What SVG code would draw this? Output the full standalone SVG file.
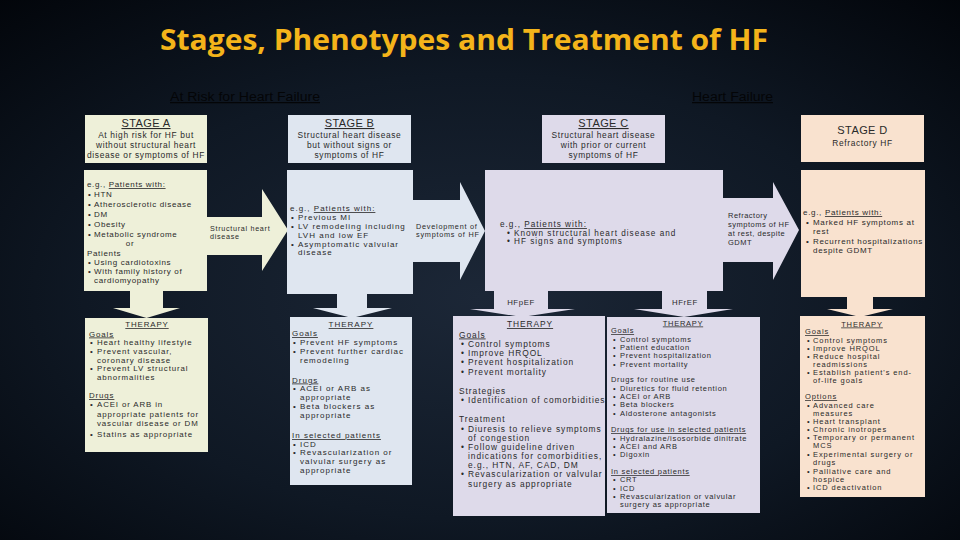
<svg xmlns="http://www.w3.org/2000/svg" width="960" height="540" viewBox="0 0 960 540">
<defs>
<radialGradient id="bg" cx="50%" cy="55%" r="75%">
<stop offset="0" stop-color="#1c2737"/>
<stop offset="0.55" stop-color="#0f1824"/>
<stop offset="1" stop-color="#02050a"/>
</radialGradient>
<style>
text{font-family:"Liberation Sans",Arial,sans-serif;fill:#2a2a2a}
.c{text-anchor:middle}
.u{text-decoration:underline}
.stg{font-size:11px;letter-spacing:0.4px}
.hl{font-size:8.4px;letter-spacing:0.64px}
.fa{fill:#eef0d9}
.fb{fill:#dfe6f0}
.fc{fill:#dedaea}
.fd{fill:#f9e2cf}
.title{font-family:"Open Sans","Liberation Sans",sans-serif;font-weight:bold;fill:#f4b41a}
.top{font-size:12.5px;fill:#040507;text-decoration:underline}
</style>
</defs>
<rect width="960" height="540" fill="url(#bg)"/>
<text class="title" x="160" y="50" font-size="28" textLength="608" lengthAdjust="spacingAndGlyphs">Stages, Phenotypes and Treatment of HF</text>
<text class="top" x="170" y="101" textLength="150" lengthAdjust="spacingAndGlyphs">At Risk for Heart Failure</text>
<text class="top" x="692" y="101" textLength="81" lengthAdjust="spacingAndGlyphs">Heart Failure</text>

<g id="connectors">
<polygon class="fa" points="206,217 262,217 262,189 288,230 262,271 262,255 206,255"/>
<g font-size="7.2" letter-spacing="0.7">
<text x="210" y="231">Structural heart</text>
<text x="210" y="239">disease</text>
</g>
<polygon class="fb" points="412,200 460,200 460,182 485,231 460,280 460,262 412,262"/>
<g font-size="7.3" letter-spacing="0.75">
<text x="416" y="229">Development of</text>
<text x="416" y="237">symptoms of HF</text>
</g>
<polygon class="fc" points="723,198 773,198 773,182 799,230 773,280 773,262 723,262"/>
<g font-size="7.5" letter-spacing="0.5">
<text x="728" y="218">Refractory</text>
<text x="728" y="227">symptoms of HF</text>
<text x="728" y="236">at rest, despite</text>
<text x="728" y="245">GDMT</text>
</g>
<polygon class="fa" points="130,290 163,290 163,308 180,308 146.5,318 113,308 130,308"/>
<polygon class="fb" points="337,293 367,293 367,308 392,308 352,318 313,308 337,308"/>
<polygon class="fc" points="494,290 548,290 548,309 575,309 522,317 470,309 494,309"/>
<text class="c" x="521" y="305" font-size="7.8" letter-spacing="0.6">HFpEF</text>
<polygon class="fc" points="662,290 707,290 707,309 733,309 684,317 634,309 662,309"/>
<text class="c" x="685" y="305" font-size="7.8" letter-spacing="0.6">HFrEF</text>
<polygon class="fd" points="847,297 873,297 873,309 893,309 860,317 827,309 847,309"/>
</g>

<g id="stage-a">
<rect class="fa" x="85" y="115" width="122" height="48"/>
<text class="stg c u" x="146" y="127">STAGE A</text>
<text class="hl c" x="146" y="138">At high risk for HF but</text>
<text class="hl c" x="146" y="148">without structural heart</text>
<text class="hl c" x="146" y="158">disease or symptoms of HF</text>
</g>
<g id="stage-b">
<rect class="fb" x="288" y="115" width="123" height="48"/>
<text class="stg c u" x="349.5" y="127">STAGE B</text>
<text class="hl c" x="349.5" y="138">Structural heart disease</text>
<text class="hl c" x="349.5" y="148">but without signs or</text>
<text class="hl c" x="349.5" y="158">symptoms of HF</text>
</g>
<g id="stage-c">
<rect class="fc" x="542" y="115" width="123" height="48"/>
<text class="stg c u" x="603.5" y="127">STAGE C</text>
<text class="hl c" x="603.5" y="138">Structural heart disease</text>
<text class="hl c" x="603.5" y="148">with prior or current</text>
<text class="hl c" x="603.5" y="158">symptoms of HF</text>
</g>
<g id="stage-d">
<rect class="fd" x="801" y="115" width="123" height="47"/>
<text class="stg c" x="862.5" y="134">STAGE D</text>
<text class="hl c" x="862.5" y="146">Refractory HF</text>
</g>

<g id="stage-a-patients" font-size="8" letter-spacing="0.66">
<rect class="fa" x="84" y="170" width="123" height="121"/>
<text x="87" y="187">e.g., <tspan class="u">Patients with:</tspan></text>
<text y="197"><tspan x="88">•</tspan><tspan x="94">HTN</tspan></text>
<text y="207"><tspan x="88">•</tspan><tspan x="94">Atherosclerotic disease</tspan></text>
<text y="217"><tspan x="88">•</tspan><tspan x="94">DM</tspan></text>
<text y="227"><tspan x="88">•</tspan><tspan x="94">Obesity</tspan></text>
<text y="237"><tspan x="88">•</tspan><tspan x="94">Metabolic syndrome</tspan></text>
<text class="c" x="130" y="246">or</text>
<text x="87" y="256">Patients</text>
<text y="265"><tspan x="88">•</tspan><tspan x="94">Using cardiotoxins</tspan></text>
<text y="274"><tspan x="88">•</tspan><tspan x="94">With family history of</tspan></text>
<text x="94" y="283">cardiomyopathy</text>
</g>
<g id="stage-b-patients" font-size="8" letter-spacing="1">
<rect class="fb" x="287" y="170" width="126" height="124"/>
<text x="290" y="211">e.g., <tspan class="u">Patients with:</tspan></text>
<text y="220"><tspan x="291">•</tspan><tspan x="298">Previous MI</tspan></text>
<text y="229"><tspan x="291">•</tspan><tspan x="298">LV remodeling including</tspan></text>
<text x="298" y="237.5">LVH and low EF</text>
<text y="246.5"><tspan x="291">•</tspan><tspan x="298">Asymptomatic valvular</tspan></text>
<text x="298" y="255">disease</text>
</g>
<g id="stage-c-patients" font-size="8.2" letter-spacing="1">
<rect class="fc" x="485" y="170" width="238" height="121"/>
<text x="500" y="227">e.g., <tspan class="u">Patients with:</tspan></text>
<text y="235.5"><tspan x="507">•</tspan><tspan x="514">Known structural heart disease and</tspan></text>
<text y="244"><tspan x="507">•</tspan><tspan x="514">HF signs and symptoms</tspan></text>
</g>
<g id="stage-d-patients" font-size="8" letter-spacing="0.69">
<rect class="fd" x="801" y="170" width="124" height="127"/>
<text x="803" y="215">e.g., <tspan class="u">Patients with:</tspan></text>
<text y="225"><tspan x="806">•</tspan><tspan x="813">Marked HF symptoms at</tspan></text>
<text x="813" y="234">rest</text>
<text y="243.5"><tspan x="806">•</tspan><tspan x="813">Recurrent hospitalizations</tspan></text>
<text x="813" y="252.5">despite GDMT</text>
</g>

<g id="therapy-a" font-size="7.9" letter-spacing="0.87">
<rect class="fa" x="85" y="318" width="123" height="134"/>
<text class="c u" x="147" y="327">THERAPY</text>
<text class="u" x="89" y="336.5">Goals</text>
<text y="345"><tspan x="90">•</tspan><tspan x="97">Heart healthy lifestyle</tspan></text>
<text y="353.5"><tspan x="90">•</tspan><tspan x="97">Prevent vascular,</tspan></text>
<text x="97" y="362.5">coronary disease</text>
<text y="371"><tspan x="90">•</tspan><tspan x="97">Prevent LV structural</tspan></text>
<text x="97" y="379.5">abnormalities</text>
<text class="u" x="89" y="398">Drugs</text>
<text y="407"><tspan x="90">•</tspan><tspan x="97">ACEI or ARB in</tspan></text>
<text x="97" y="416.5">appropriate patients for</text>
<text x="97" y="426">vascular disease or DM</text>
<text y="436.5"><tspan x="90">•</tspan><tspan x="97">Statins as appropriate</tspan></text>
</g>
<g id="therapy-b" font-size="8" letter-spacing="1">
<rect class="fb" x="290" y="317" width="122" height="168"/>
<text class="c u" x="351" y="327">THERAPY</text>
<text class="u" x="292" y="336">Goals</text>
<text y="345"><tspan x="293">•</tspan><tspan x="300">Prevent HF symptoms</tspan></text>
<text y="353.5"><tspan x="293">•</tspan><tspan x="300">Prevent further cardiac</tspan></text>
<text x="300" y="362.5">remodeling</text>
<text class="u" x="292" y="382.5">Drugs</text>
<text y="391"><tspan x="293">•</tspan><tspan x="300">ACEI or ARB as</tspan></text>
<text x="300" y="400">appropriate</text>
<text y="409"><tspan x="293">•</tspan><tspan x="300">Beta blockers as</tspan></text>
<text x="300" y="418">appropriate</text>
<text class="u" x="292" y="438">In selected patients</text>
<text y="446.5"><tspan x="293">•</tspan><tspan x="300">ICD</tspan></text>
<text y="455"><tspan x="293">•</tspan><tspan x="300">Revascularization or</tspan></text>
<text x="300" y="463.5">valvular surgery as</text>
<text x="300" y="472.5">appropriate</text>
</g>
<g id="therapy-c-hfpef" font-size="8.4" letter-spacing="0.95">
<rect class="fc" x="453" y="316" width="152" height="200"/>
<text class="c u" x="530" y="327">THERAPY</text>
<text class="u" x="459" y="337.5">Goals</text>
<text y="346.5"><tspan x="461">•</tspan><tspan x="468">Control symptoms</tspan></text>
<text y="356"><tspan x="461">•</tspan><tspan x="468">Improve HRQOL</tspan></text>
<text y="365"><tspan x="461">•</tspan><tspan x="468">Prevent hospitalization</tspan></text>
<text y="374.5"><tspan x="461">•</tspan><tspan x="468">Prevent mortality</tspan></text>
<text x="459" y="394">Strategies</text>
<text y="403"><tspan x="461">•</tspan><tspan x="468">Identification of comorbidities</tspan></text>
<text x="459" y="422">Treatment</text>
<text y="431.5"><tspan x="461">•</tspan><tspan x="468">Diuresis to relieve symptoms</tspan></text>
<text x="468" y="440.5">of congestion</text>
<text y="450"><tspan x="461">•</tspan><tspan x="468">Follow guideline driven</tspan></text>
<text x="468" y="459">indications for comorbidities,</text>
<text x="468" y="468">e.g., HTN, AF, CAD, DM</text>
<text y="477"><tspan x="461">•</tspan><tspan x="468">Revascularization or valvular</tspan></text>
<text x="468" y="486.5">surgery as appropriate</text>
</g>
<g id="therapy-c-hfref" font-size="7.5" letter-spacing="0.7">
<rect class="fc" x="607" y="317" width="153" height="196"/>
<text class="c u" x="683" y="325.5">THERAPY</text>
<text class="u" x="611" y="333">Goals</text>
<text y="341.5"><tspan x="613">•</tspan><tspan x="620">Control symptoms</tspan></text>
<text y="349.5"><tspan x="613">•</tspan><tspan x="620">Patient education</tspan></text>
<text y="358"><tspan x="613">•</tspan><tspan x="620">Prevent hospitalization</tspan></text>
<text y="366.5"><tspan x="613">•</tspan><tspan x="620">Prevent mortality</tspan></text>
<text x="611" y="382">Drugs for routine use</text>
<text y="390.5"><tspan x="613">•</tspan><tspan x="620">Diuretics for fluid retention</tspan></text>
<text y="399"><tspan x="613">•</tspan><tspan x="620">ACEI or ARB</tspan></text>
<text y="407"><tspan x="613">•</tspan><tspan x="620">Beta blockers</tspan></text>
<text y="415.5"><tspan x="613">•</tspan><tspan x="620">Aldosterone antagonists</tspan></text>
<text class="u" x="611" y="432">Drugs for use in selected patients</text>
<text y="440.5"><tspan x="613">•</tspan><tspan x="620">Hydralazine/isosorbide dinitrate</tspan></text>
<text y="449"><tspan x="613">•</tspan><tspan x="620">ACEI and ARB</tspan></text>
<text y="457"><tspan x="613">•</tspan><tspan x="620">Digoxin</tspan></text>
<text class="u" x="611" y="474">In selected patients</text>
<text y="482"><tspan x="613">•</tspan><tspan x="620">CRT</tspan></text>
<text y="490.5"><tspan x="613">•</tspan><tspan x="620">ICD</tspan></text>
<text y="499"><tspan x="613">•</tspan><tspan x="620">Revascularization or valvular</tspan></text>
<text x="620" y="507">surgery as appropriate</text>
</g>
<g id="therapy-d" font-size="7.5" letter-spacing="0.9">
<rect class="fd" x="800" y="316" width="125" height="181"/>
<text class="c u" x="862" y="326.5">THERAPY</text>
<text class="u" x="805" y="334">Goals</text>
<text y="342.5"><tspan x="807">•</tspan><tspan x="813">Control symptoms</tspan></text>
<text y="350.5"><tspan x="807">•</tspan><tspan x="813">Improve HRQOL</tspan></text>
<text y="358.5"><tspan x="807">•</tspan><tspan x="813">Reduce hospital</tspan></text>
<text x="813" y="366.5">readmissions</text>
<text y="374.5"><tspan x="807">•</tspan><tspan x="813">Establish patient's end-</tspan></text>
<text x="813" y="382.5">of-life goals</text>
<text class="u" x="805" y="399">Options</text>
<text y="407.5"><tspan x="807">•</tspan><tspan x="813">Advanced care</tspan></text>
<text x="813" y="415.5">measures</text>
<text y="423.5"><tspan x="807">•</tspan><tspan x="813">Heart transplant</tspan></text>
<text y="431.5"><tspan x="807">•</tspan><tspan x="813">Chronic inotropes</tspan></text>
<text y="440"><tspan x="807">•</tspan><tspan x="813">Temporary or permanent</tspan></text>
<text x="813" y="448">MCS</text>
<text y="456.5"><tspan x="807">•</tspan><tspan x="813">Experimental surgery or</tspan></text>
<text x="813" y="465">drugs</text>
<text y="473.5"><tspan x="807">•</tspan><tspan x="813">Palliative care and</tspan></text>
<text x="813" y="481.5">hospice</text>
<text y="490"><tspan x="807">•</tspan><tspan x="813">ICD deactivation</tspan></text>
</g>
</svg>
